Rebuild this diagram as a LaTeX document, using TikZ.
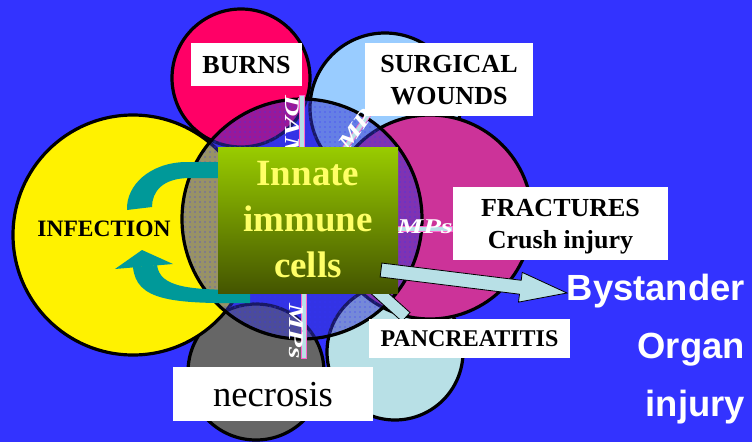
\documentclass[tikz,border=0pt]{standalone}
\usepackage{fontspec}
\setmainfont{Liberation Serif}
\newfontfamily\sansfont{Liberation Sans}
\usepackage{graphicx}
\usetikzlibrary{calc,patterns.meta}
\definecolor{bgblue}{HTML}{3333FF}
\definecolor{burnred}{HTML}{FF0066}
\definecolor{skyb}{HTML}{99CCFF}
\definecolor{fracmag}{HTML}{CC3399}
\definecolor{necgray}{HTML}{666666}
\definecolor{pancyan}{HTML}{B8E0E6}
\definecolor{cellblue}{HTML}{3333CC}
\definecolor{tealc}{HTML}{009999}
\definecolor{boxtop}{HTML}{99CC00}
\definecolor{boxbot}{HTML}{445500}
\definecolor{celltext}{HTML}{FFFF66}
\definecolor{dpink}{HTML}{FF66CC}
\tikzdeclarepattern{
  name=sdots,
  type=uncolored,
  bounding box={(-0.7pt,-0.7pt) and (0.7pt,0.7pt)},
  tile size={(5pt,5pt)},
  code={\pgfpathcircle{\pgfpointorigin}{0.55pt}\pgfusepath{fill}}
}
\tikzset{
  circ/.style={circle, draw=black, line width=3.2pt, inner sep=0pt},
  lab/.style={fill=white, inner sep=0pt, text=black, align=center, text depth=0pt,
    font=\bfseries\fontsize{26}{32}\selectfont},
  cellbox/.style={minimum width=180pt, minimum height=146pt, inner sep=0pt,
    top color=boxtop, bottom color=boxbot, text=celltext, align=center,
    font=\bfseries\fontsize{37}{46}\selectfont},
  cyanarrow/.style={fill=pancyan, draw=black, line width=0.8pt, line join=miter},
  dampstext/.style={text=white, inner sep=0pt, transform shape,
    font=\bfseries\itshape\fontsize{21}{21}\selectfont},
  bys/.style={text=white, inner sep=0pt, align=right,
    font=\sansfont\bfseries\fontsize{36.4}{58}\selectfont},
  pics/damps/.style 2 args={code={
    \fill[pancyan, draw=dpink, line width=0.7pt] (-48,{-#1}) rectangle (48,{-#1-5});
    \node[dampstext, anchor=base west] (-t) at (-48,0) {\scalebox{1.4}[1]{#2}};
  }}
}
\begin{document}
\begin{tikzpicture}[x=1pt,y=-1pt]
\fill[bgblue] (0,0) rectangle (752,442);
\useasboundingbox (0,0) rectangle (752,442);

% source circles
\node[circ, fill=burnred, minimum size=138pt] (burns) at (241,78) {};
\node[circ, fill=skyb, minimum size=150pt] (sky) at (385,108) {};
\node[circ, fill=necgray, minimum size=136pt] (nec) at (256,372) {};
\node[circ, fill=pancyan, minimum size=136pt] (panc) at (395,352) {};
\node[circ, fill=fracmag, minimum size=204pt] (frac) at (430,217) {};
\node[circ, fill=yellow, minimum size=240pt] (infect) at (133,235) {};

% central translucent circle
\fill[cellblue, fill opacity=0.5] (302,219) circle[radius=120pt];
\fill[pattern=sdots, pattern color=bgblue] (302,219) circle[radius=119pt];
\node[circ, minimum size=240pt] (central) at (302,219) {};

% DAMPs labels (partly hidden behind the boxes)
\pic[rotate=-90] (dtop) at (285,143) {damps={14}{DAM}};
\pic[rotate=55] (dur) at (352,146) {damps={2}{\phantom{DA}MP}};
\pic (dright) at (404,233) {damps={2}{\phantom{DA}MPs}};
\pic[rotate=-90] (dbot) at (289,310) {damps={12}{\phantom{DA}MPs}};

% teal curved arrows
\fill[tealc] (250,162) -- (185,162) .. controls (150,163) and (126,185) .. (127,210)
  -- (152,207) .. controls (152,192) and (162,178) .. (190,178) -- (250,178) -- cycle;
\fill[tealc] (142,250) -- (115,269) -- (173,264) -- cycle;
\fill[tealc] (133,267) .. controls (136,300) and (170,304) .. (250,303)
  -- (250,290) .. controls (190,290) and (160,288) .. (157,265) -- cycle;

% bar towards pancreatitis
\coordinate (ps) at (366,281);
\coordinate (pe) at (406,317);
\draw[cyanarrow] ($(ps)!6pt!90:(pe)$) -- ($(pe)!6pt!-90:(ps)$) -- ($(pe)!6pt!90:(ps)$) -- ($(ps)!6pt!-90:(pe)$) -- cycle;

% innate immune cells
\node[cellbox] (cells) at (308,220) {Innate\\immune\\cells};

% big arrow to bystander
\coordinate (bs) at (381,270);
\coordinate (bt) at (567,293);
\coordinate (bb) at ($(bt)!47pt!(bs)$);
\draw[cyanarrow] ($(bs)!7pt!90:(bt)$) -- ($(bb)!7pt!-90:(bs)$) -- ($(bb)!15pt!-90:(bs)$) -- (bt)
  -- ($(bb)!15pt!90:(bs)$) -- ($(bb)!7pt!90:(bs)$) -- ($(bs)!7pt!-90:(bt)$) -- cycle;

% labels
\node[lab, minimum width=111pt, minimum height=43pt] (burnslab) at (246.5,64.5) {BURNS};
\node[lab, minimum width=168pt, minimum height=73pt] (surglab) at (449,79.5) {SURGICAL\\WOUNDS};
\node[lab, minimum width=215pt, minimum height=73pt] (fraclab) at (560.5,223.5) {FRACTURES\\Crush injury};
\node[lab, minimum width=201pt, minimum height=39pt, font=\bfseries\fontsize{24}{28}\selectfont] (panclab) at (469.5,338.5) {PANCREATITIS};
\node[lab, minimum width=200pt, minimum height=54pt, font=\fontsize{36.6}{40}\selectfont] (neclab) at (273,394) {necrosis};
\node[inner sep=0pt, text depth=0pt, font=\bfseries\fontsize{23.5}{28}\selectfont] (inflab) at (104,228.5) {INFECTION};

\node[bys, anchor=north east] (bystander) at (745,274) {Bystander\\Organ\\injury};
\end{tikzpicture}
\end{document}
